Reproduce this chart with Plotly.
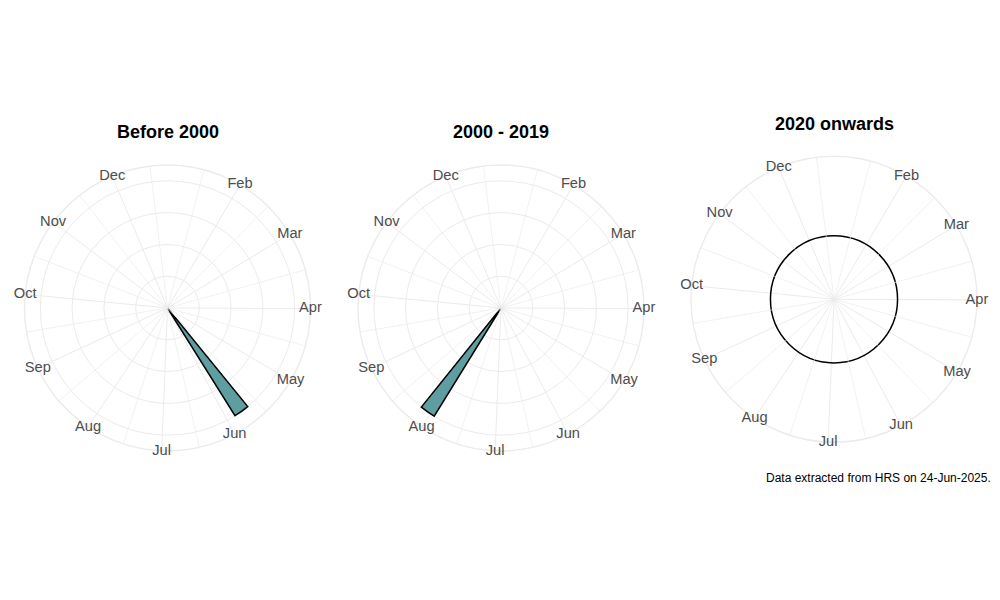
import plotly.graph_objects as go

# day-of-year (0 = 1 Jan) at which each month starts, and its label
month_labels = ["Jan", "Feb", "Mar", "Apr", "May", "Jun",
                "Jul", "Aug", "Sep", "Oct", "Nov", "Dec"]
month_start_day = [0, 31, 59, 90, 120, 151, 181, 212, 243, 273, 304, 334]
month_mid_day = [15.5, 45, 74.5, 105, 135.5, 166, 196.5, 227.5, 258, 288.5, 319, 349.5]

panel_titles = ["Before 2000", "2000 - 2019", "2020 onwards"]

# weekly bins: centre day-of-year and count
before_2000_day = [143.5]
before_2000_count = [1]
mid_period_day = [213.5]
mid_period_count = [1]
bin_width_days = 7

# the recent panel only shows a single ring
onwards_level = [0.5]

DAYS_PER_TURN = 355.6   # the circle covers a bit less than a year
R_MAX = 1.125
LABEL_R = 1.1249        # labels sit on the outer ring
GRID = "#EBEBEB"
FONT = "Arial, Liberation Sans, sans-serif"

# panel centres in paper fractions and circle radius in px
centres = [(0.1595, 0.5), (0.493, 0.5), (0.826, 0.5145)]
R_PX = 143


def deg(days):
    return [d * 360 / DAYS_PER_TURN for d in days]


def domain(cx, cy, rpx):
    return dict(x=[cx - rpx / 1000, cx + rpx / 1000], y=[cy - rpx / 600, cy + rpx / 600])


# thin spokes at mid-month (minor grid)
minor_r, minor_theta = [], []
for t in deg(month_mid_day):
    minor_r += [0, R_MAX, None]
    minor_theta += [t, t, None]

bar_style = dict(color="#5F9EA0", line=dict(color="black", width=1.5))
panel_bars = [
    go.Barpolar(r=before_2000_count, theta=deg(before_2000_day),
                width=deg([bin_width_days]), marker=bar_style),
    go.Barpolar(r=mid_period_count, theta=deg(mid_period_day),
                width=deg([bin_width_days]), marker=bar_style),
    go.Barpolar(r=onwards_level, theta=[0], width=[360],
                marker=dict(color="rgba(0,0,0,0)", line=dict(color="black", width=1.5))),
]

fig = go.Figure()

for i, ((cx, cy), bar) in enumerate(zip(centres, panel_bars)):
    sp = "polar" if i == 0 else f"polar{i + 1}"
    fig.add_trace(go.Scatterpolar(r=minor_r, theta=minor_theta, mode="lines",
                                  line=dict(color=GRID, width=0.7),
                                  subplot=sp, showlegend=False, hoverinfo="skip"))
    bar.update(subplot=sp, showlegend=False, hoverinfo="skip")
    fig.add_trace(bar)
    fig.add_trace(go.Scatterpolar(
        r=[LABEL_R] * 11, theta=deg(month_start_day[1:]), text=month_labels[1:],
        mode="text", cliponaxis=False,
        textfont=dict(family=FONT, size=14.67, color="#4D4D4D"),
        subplot=sp, showlegend=False, hoverinfo="skip"))

    fig.layout[sp] = dict(
        domain=domain(cx, cy, R_PX), bgcolor="white",
        angularaxis=dict(rotation=90.89, direction="clockwise",
                         tickvals=deg(month_start_day[1:]), showticklabels=False,
                         ticks="", showline=True, linecolor=GRID, linewidth=1.4,
                         layer="below traces", gridcolor=GRID, gridwidth=1.4),
        radialaxis=dict(range=[0, R_MAX], tickvals=[0.25, 0.5, 0.75, 1.0],
                        showticklabels=False, ticks="", showline=False,
                        layer="below traces",
                        showgrid=(i < 2), gridcolor=GRID, gridwidth=1.4),
    )

title_pos = [(0.160, 0.7933), (0.493, 0.7933), (0.826, 0.8067)]
for text, (x, y) in zip(panel_titles, title_pos):
    fig.add_annotation(text=f"<b>{text}</b>", x=x, y=y,
                       xref="paper", yref="paper", xanchor="center", yanchor="middle",
                       showarrow=False, font=dict(family=FONT, size=18, color="black"))

fig.add_annotation(text="Data extracted from HRS on 24-Jun-2025.",
                   x=0.985, y=0.2167, xref="paper", yref="paper",
                   xanchor="right", yanchor="middle", showarrow=False,
                   font=dict(family=FONT, size=12, color="black"))

fig.update_layout(width=1000, height=600, margin=dict(l=0, r=0, t=0, b=0),
                  paper_bgcolor="white", font=dict(family=FONT))

fig.write_html("out.html")
